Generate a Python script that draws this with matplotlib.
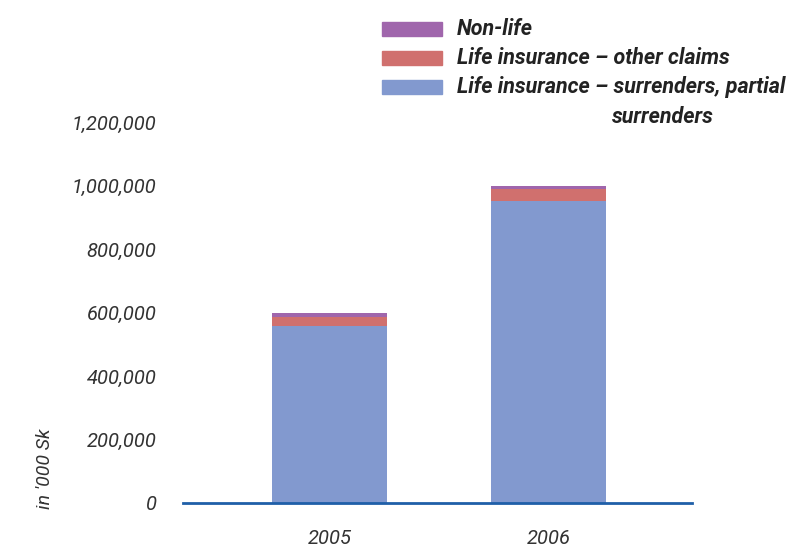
import matplotlib
matplotlib.use("Agg")
import matplotlib.pyplot as plt
from matplotlib.patches import Rectangle
import numpy as np

years = ["2005", "2006"]
surrenders = [558000, 952000]
other_claims = [27000, 36000]
non_life = [15000, 10000]

series_names = ["Non-life", "Life insurance – other claims",
                "Life insurance – surrenders, partial"]
series_colors = ["#a066ac", "#d0706e", "#8299cf"]

plt.rcParams["font.family"] = ["Roboto", "DejaVu Sans"]

fig = plt.figure(figsize=(7.95, 5.49), dpi=100)
ax = fig.add_axes([183 / 795, 1 - 503 / 549, (692 - 183) / 795, (503 - 122) / 549])

x = np.arange(len(years))
w = 0.525
b1 = np.array(surrenders)
b2 = b1 + np.array(other_claims)
ax.bar(x, surrenders, width=w, color=series_colors[2])
ax.bar(x, other_claims, width=w, bottom=b1, color=series_colors[1])
ax.bar(x, non_life, width=w, bottom=b2, color=series_colors[0])

ax.set_xlim(-0.67, 1.655)
ax.set_ylim(0, 1200000)
ticks = np.arange(0, 1200001, 200000)
ax.set_yticks(ticks)
ax.set_yticklabels([f"{v:,.0f}" for v in ticks],
                   fontsize=14.5, style="italic", color="#333333")
ax.set_xticks(x)
ax.set_xticklabels(years, fontsize=14.5, style="italic", color="#333333")
ax.tick_params(axis="both", length=0)
ax.tick_params(axis="y", pad=19)
ax.tick_params(axis="x", pad=19)
for s in ["top", "right", "left"]:
    ax.spines[s].set_visible(False)
ax.spines["bottom"].set_color("#1f5fa8")
ax.spines["bottom"].set_linewidth(2)
ax.spines["bottom"].set_zorder(5)

fig.text(45 / 795, 1 - 469 / 549, "in '000 Sk", rotation=90, fontsize=14,
         style="italic", color="#333333", ha="center", va="center")

# legend drawn by hand so the last entry can wrap with an indent
rows_y = [29, 58, 87]
for name, col, yy in zip(series_names, series_colors, rows_y):
    fig.patches.append(Rectangle((382 / 795, 1 - (yy + 7) / 549), 60 / 795, 14 / 549,
                                 transform=fig.transFigure, color=col))
    fig.text(457 / 795, 1 - yy / 549, name, fontsize=15.5, style="italic",
             fontweight="bold", color="#222222", va="center", ha="left")
fig.text(612 / 795, 1 - 117 / 549, "surrenders", fontsize=15.5, style="italic",
         fontweight="bold", color="#222222", va="center", ha="left")

fig.savefig("out.png", dpi=100)
